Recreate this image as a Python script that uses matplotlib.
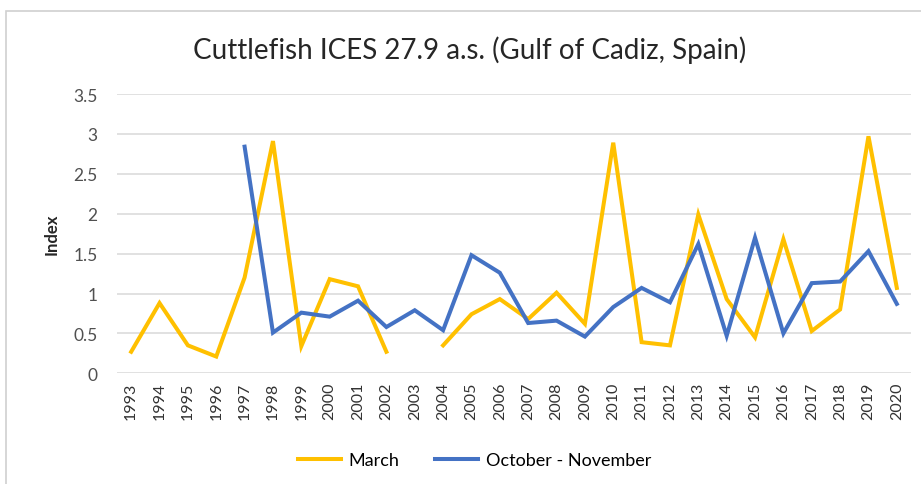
import numpy as np
import matplotlib.pyplot as plt
from matplotlib.patches import Rectangle

years = list(range(1993, 2021))
march = [0.27, 0.88, 0.35, 0.21, 1.20, 2.91, 0.34, 1.18, 1.09, 0.27,
         np.nan, 0.35, 0.74, 0.93, 0.68, 1.01, 0.62, 2.89, 0.39, 0.35,
         1.99, 0.93, 0.45, 1.68, 0.53, 0.80, 2.97, 1.07]
oct_nov = [np.nan, np.nan, np.nan, np.nan, 2.84, 0.51, 0.76, 0.71, 0.91, 0.58,
           0.79, 0.54, 1.48, 1.26, 0.63, 0.66, 0.46, 0.83, 1.07, 0.89,
           1.62, 0.47, 1.70, 0.50, 1.13, 1.15, 1.53, 0.87]
series_names = ["March", "October - November"]
title = "Cuttlefish ICES 27.9 a.s. (Gulf of Cadiz, Spain)"

plt.rcParams['font.family'] = ['Lato', 'DejaVu Sans']

fig = plt.figure(figsize=(9.21, 4.85), dpi=100)
# light frame around the chart area
fig.patches.append(Rectangle((6 / 921, -0.05), 1.0, 1.0 - 12 / 485 + 0.05,
                             transform=fig.transFigure, fill=False,
                             edgecolor='#d0d0d0', linewidth=1.2))

ax = fig.add_axes([117 / 921, 1 - 374.3 / 485, 794 / 921, 279.3 / 485])

ax.plot(years, march, color='#FFC000', lw=2.9, label=series_names[0],
        solid_joinstyle='miter')
ax.plot(years, oct_nov, color='#4472C4', lw=2.9, label=series_names[1],
        solid_joinstyle='miter')

ax.set_xlim(1992.5, 2020.5)
ax.set_ylim(0, 3.5)
ax.set_yticks(np.arange(0, 3.51, 0.5))
ax.set_yticklabels(['0', '0.5', '1', '1.5', '2', '2.5', '3', '3.5'])
ax.set_xticks(years)
ax.set_xticklabels([str(y) for y in years], rotation=90, fontsize=11.5,
                   color='#333333')
ax.tick_params(axis='y', labelsize=12.5, labelcolor='#505050', length=0, pad=14)
ax.tick_params(axis='x', length=0, pad=6)

ax.grid(axis='y', color='#d9d9d9', lw=1.1)
ax.set_axisbelow(True)
for s in ax.spines.values():
    s.set_visible(False)

ax.set_ylabel("Index", fontsize=12, fontweight='bold', color='#262626',
              labelpad=10)
fig.text(0.51, 1 - 50 / 485, title, ha='center', va='center', fontsize=20,
         color='#262626')

fig.legend(loc='center', bbox_to_anchor=(0.515, 1 - 461 / 485), ncol=2,
           frameon=False, fontsize=13, handlelength=2.4, columnspacing=2.0,
           handletextpad=0.4)

fig.savefig('out.png', dpi=100, facecolor='white')
